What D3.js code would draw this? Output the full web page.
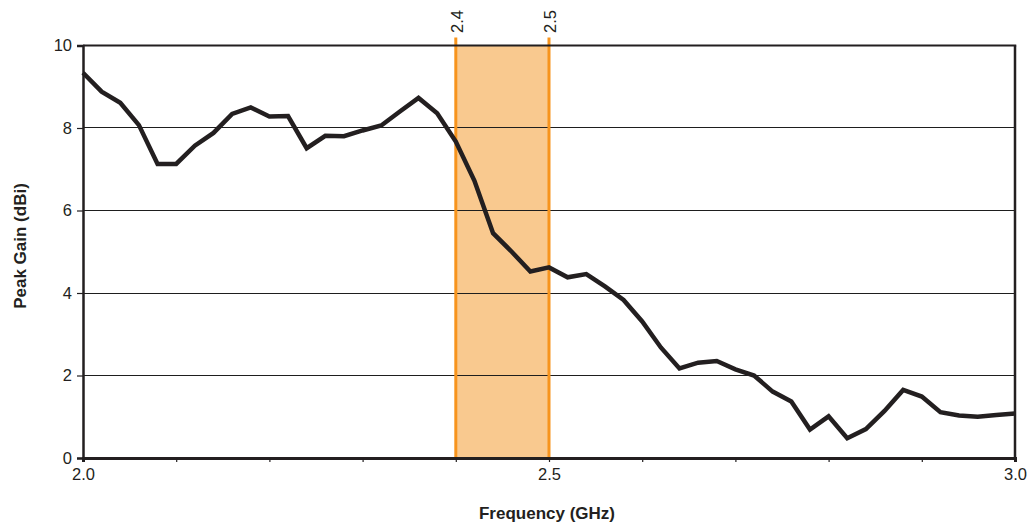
<!DOCTYPE html>
<html>
<head>
<meta charset="utf-8">
<script src="https://cdn.jsdelivr.net/npm/d3@7"></script>
<style>
  html, body { margin: 0; padding: 0; background: #fff; }
  svg { display: block; font-family: "Liberation Sans", Arial, Helvetica, sans-serif; }
</style>
</head>
<body>
<svg id="chart" width="1033" height="527"></svg>
<script>
// Measured peak gain vs. frequency, sampled every 20 MHz
const frequencies = [
  2.00, 2.02, 2.04, 2.06, 2.08, 2.10, 2.12, 2.14, 2.16, 2.18,
  2.20, 2.22, 2.24, 2.26, 2.28, 2.30, 2.32, 2.34, 2.36, 2.38,
  2.40, 2.42, 2.44, 2.46, 2.48, 2.50, 2.52, 2.54, 2.56, 2.58,
  2.60, 2.62, 2.64, 2.66, 2.68, 2.70, 2.72, 2.74, 2.76, 2.78,
  2.80, 2.82, 2.84, 2.86, 2.88, 2.90, 2.92, 2.94, 2.96, 2.98, 3.00
];
const peakGain = [
  9.34, 8.88, 8.61, 8.07, 7.13, 7.13, 7.57, 7.88, 8.34, 8.50,
  8.28, 8.29, 7.51, 7.81, 7.80, 7.94, 8.06, 8.40, 8.73, 8.36,
  7.67, 6.72, 5.45, 5.00, 4.52, 4.62, 4.38, 4.46, 4.16, 3.83,
  3.31, 2.68, 2.17, 2.31, 2.35, 2.15, 2.00, 1.61, 1.37, 0.69,
  1.01, 0.48, 0.70, 1.14, 1.65, 1.49, 1.11, 1.03, 1.00, 1.04, 1.08
];

// ISM band edges (GHz)
const bandEdges = [2.4, 2.5];
const bandLabels = ["2.4", "2.5"];

// Axis ticks
const xTicks = [2.0, 2.1, 2.2, 2.3, 2.4, 2.5, 2.6, 2.7, 2.8, 2.9, 3.0];
const xTickLabels = ["2.0", "2.5", "3.0"];
const yTicks = [0, 2, 4, 6, 8, 10];

const xTitle = "Frequency (GHz)";
const yTitle = "Peak Gain (dBi)";

const svg = d3.select("#chart");
const plotLeft = 83, plotRight = 1015, plotTop = 45.5, plotBottom = 458;
const ink = "#231f20";
const fontFamily = "Liberation Sans, Arial, Helvetica, sans-serif";
const fontSize = 16.5;

const x = d3.scaleLinear().domain([2.0, 3.0]).range([plotLeft, plotRight]);
const y = d3.scaleLinear().domain([0, 10]).range([plotBottom, plotTop]);

// Band shading
svg.append("rect")
  .attr("x", x(bandEdges[0]))
  .attr("y", plotTop)
  .attr("width", x(bandEdges[1]) - x(bandEdges[0]))
  .attr("height", plotBottom - plotTop)
  .attr("fill", "#f9c98f");

// Horizontal gridlines (snapped to the pixel grid for a crisp 1px rule)
svg.append("g")
  .selectAll("line")
  .data(yTicks.filter(d => d > 0 && d < 10))
  .join("line")
  .attr("x1", plotLeft).attr("x2", plotRight)
  .attr("y1", d => Math.floor(y(d)) + 0.5).attr("y2", d => Math.floor(y(d)) + 0.5)
  .attr("stroke", "#1e1e1e")
  .attr("stroke-width", 1.2);

// Band edge lines, extending slightly above the plot
svg.append("g")
  .selectAll("line")
  .data(bandEdges)
  .join("line")
  .attr("x1", d => x(d)).attr("x2", d => x(d))
  .attr("y1", plotTop - 8).attr("y2", plotBottom)
  .attr("stroke", "#f7941d")
  .attr("stroke-width", 3);

svg.append("g")
  .selectAll("text")
  .data(bandEdges)
  .join("text")
  .attr("transform", d => `translate(${x(d) + 7},${plotTop - 12.5}) rotate(-90)`)
  .attr("text-anchor", "start")
  .attr("font-size", fontSize)
  .attr("fill", ink)
  .text((d, i) => bandLabels[i]);

// Plot frame: top and right
svg.append("line")
  .attr("x1", plotLeft).attr("x2", plotRight + 1.25)
  .attr("y1", plotTop).attr("y2", plotTop)
  .attr("stroke", ink).attr("stroke-width", 2.2);
svg.append("line")
  .attr("x1", plotRight).attr("x2", plotRight)
  .attr("y1", plotTop).attr("y2", plotBottom)
  .attr("stroke", ink).attr("stroke-width", 2.5);

// Y axis
const yAxis = d3.axisLeft(y).tickValues(yTicks).tickSize(6).tickPadding(5)
  .tickFormat(d3.format("d"));
const gy = svg.append("g").attr("transform", `translate(${plotLeft},0)`).call(yAxis);
gy.select(".domain").attr("stroke", ink).attr("stroke-width", 2.5);
gy.selectAll(".tick line").attr("stroke", ink).attr("stroke-width", 1.2);
gy.selectAll(".tick text").attr("font-size", fontSize).attr("fill", ink)
  .attr("font-family", fontFamily);

// X axis
const xAxis = d3.axisBottom(x).tickValues(xTicks).tickSize(4).tickPadding(6)
  .tickFormat(d => { const s = d3.format(".1f")(d); return xTickLabels.includes(s) ? s : ""; });
const gx = svg.append("g").attr("transform", `translate(0,${plotBottom})`).call(xAxis);
gx.select(".domain").attr("stroke", ink).attr("stroke-width", 3);
gx.selectAll(".tick line").attr("stroke", ink).attr("stroke-width", 1.2);
gx.selectAll(".tick text").attr("font-size", fontSize).attr("fill", ink)
  .attr("font-family", fontFamily);

// Gain curve
const line = d3.line()
  .x((d, i) => x(frequencies[i]))
  .y(d => y(d));
svg.append("path")
  .datum(peakGain)
  .attr("d", line)
  .attr("fill", "none")
  .attr("stroke", ink)
  .attr("stroke-width", 4.5)
  .attr("stroke-linejoin", "miter")
  .attr("stroke-linecap", "butt");

// Axis titles
svg.append("text")
  .attr("x", (plotLeft + plotRight) / 2 - 2)
  .attr("y", 519)
  .attr("text-anchor", "middle")
  .attr("font-size", 17)
  .attr("font-weight", "bold")
  .attr("fill", ink)
  .text(xTitle);

svg.append("text")
  .attr("transform", `translate(26,246) rotate(-90)`)
  .attr("text-anchor", "middle")
  .attr("font-size", 17)
  .attr("font-weight", "bold")
  .attr("fill", ink)
  .text(yTitle);
</script>
</body>
</html>
